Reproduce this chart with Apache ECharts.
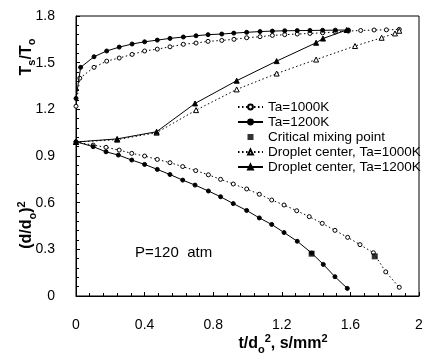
<!DOCTYPE html>
<html>
<head>
<meta charset="utf-8">
<script src="https://cdn.jsdelivr.net/npm/echarts@6/dist/echarts.min.js"></script>
<style>
html,body{margin:0;padding:0;background:#fff;}
#c{width:426px;height:364px;}
</style>
</head>
<body>
<div id="c"></div>
<script>
// ---- data ----
var tSurf1200 = [0, 0.027, 0.105, 0.179, 0.252, 0.327, 0.40, 0.474, 0.548, 0.626, 0.70, 0.77, 0.85, 0.92, 0.995, 1.073, 1.145, 1.217, 1.29, 1.364, 1.438, 1.512, 1.588];
var surf1200  = [1.27, 1.47, 1.538, 1.575, 1.60, 1.62, 1.634, 1.645, 1.656, 1.665, 1.673, 1.68, 1.684, 1.69, 1.695, 1.70, 1.703, 1.705, 1.706, 1.707, 1.708, 1.709, 1.71];

var tSurf1000 = [0, 0.022, 0.105, 0.179, 0.252, 0.327, 0.40, 0.474, 0.548, 0.626, 0.70, 0.77, 0.85, 0.921, 0.995, 1.073, 1.145, 1.217, 1.29, 1.364, 1.438, 1.512, 1.588, 1.66, 1.738, 1.81, 1.885];
var surf1000  = [1.22, 1.40, 1.47, 1.51, 1.53, 1.553, 1.575, 1.587, 1.602, 1.618, 1.626, 1.637, 1.643, 1.650, 1.66, 1.667, 1.675, 1.68, 1.684, 1.688, 1.692, 1.697, 1.703, 1.707, 1.71, 1.711, 1.714];

var tD1200 = [0, 0.10, 0.175, 0.247, 0.325, 0.40, 0.474, 0.548, 0.622, 0.694, 0.772, 0.843, 0.917, 0.995, 1.069, 1.141, 1.213, 1.29, 1.374, 1.442, 1.51, 1.582];
var d1200  = [0.992, 0.96, 0.927, 0.906, 0.874, 0.846, 0.814, 0.781, 0.745, 0.713, 0.675, 0.638, 0.594, 0.55, 0.502, 0.46, 0.408, 0.352, 0.276, 0.203, 0.124, 0.049];

var tD1000 = [0, 0.10, 0.175, 0.252, 0.325, 0.40, 0.474, 0.548, 0.622, 0.698, 0.772, 0.843, 0.917, 0.995, 1.069, 1.141, 1.213, 1.287, 1.36, 1.436, 1.51, 1.584, 1.656, 1.734, 1.806, 1.885];
var d1000  = [0.99, 0.97, 0.956, 0.938, 0.917, 0.90, 0.878, 0.857, 0.832, 0.806, 0.779, 0.75, 0.72, 0.688, 0.654, 0.617, 0.585, 0.548, 0.51, 0.467, 0.422, 0.377, 0.33, 0.278, 0.155, 0.056];

var tCenter1200 = [0, 0.24, 0.47, 0.694, 0.937, 1.17, 1.40, 1.44, 1.578];
var center1200  = [0.99, 1.01, 1.056, 1.238, 1.384, 1.51, 1.628, 1.655, 1.71];

var tCenter1000 = [0, 0.24, 0.47, 0.70, 0.937, 1.17, 1.40, 1.627, 1.782, 1.86, 1.885];
var center1000  = [0.99, 1.005, 1.05, 1.195, 1.328, 1.43, 1.52, 1.607, 1.66, 1.688, 1.705];

var tCritical = [1.374, 1.742];
var critical  = [0.272, 0.255];

var xTicks = [0, 0.4, 0.8, 1.2, 1.6, 2];
var yTicks = [0, 0.3, 0.6, 0.9, 1.2, 1.5, 1.8];

var legendNames = ['Ta=1000K', 'Ta=1200K', 'Critical mixing point', 'Droplet center, Ta=1000K', 'Droplet center, Ta=1200K'];

function zip(a, b) { return a.map(function (v, i) { return [v, b[i]]; }); }

var FONT = 'Liberation Sans, Arial, sans-serif';

var openStyle = { color: '#fff', borderColor: '#000', borderWidth: 1 };
var fillStyle = { color: '#000', borderColor: '#000', borderWidth: 1 };
var dotted = { color: '#000', width: 1, type: [1.5, 2.5] };
var solid = { color: '#000', width: 1, type: 'solid' };

var legendData = legendNames.map(function (n) {
  return n === 'Critical mixing point' ? { name: n, icon: 'path://M0,0L1,0L1,1L0,1Z' } : { name: n };
});

var chart = echarts.init(document.getElementById('c'), null, { renderer: 'canvas' });
chart.setOption({
  animation: false,
  backgroundColor: '#fff',
  grid: { left: 76, right: 7, top: 16, bottom: 68, show: true, borderColor: '#000', borderWidth: 1 },
  xAxis: {
    type: 'value', min: xTicks[0], max: xTicks[xTicks.length - 1], interval: 0.4,
    axisLine: { show: true, lineStyle: { color: '#000', width: 1 } },
    axisTick: { show: true, inside: true, length: 4, lineStyle: { color: '#000' } },
    minorTick: { show: true, splitNumber: 5, length: 3, lineStyle: { color: '#000' } },
    splitLine: { show: false },
    axisLabel: { color: '#000', fontSize: 14, fontFamily: FONT, margin: 22 }
  },
  yAxis: {
    type: 'value', min: yTicks[0], max: yTicks[yTicks.length - 1], interval: 0.3,
    axisLine: { show: true, lineStyle: { color: '#000', width: 1 } },
    axisTick: { show: true, inside: true, length: 4, lineStyle: { color: '#000' } },
    minorTick: { show: true, splitNumber: 5, length: 3, lineStyle: { color: '#000' } },
    splitLine: { show: false },
    axisLabel: { color: '#000', fontSize: 14, fontFamily: FONT, margin: 21 }
  },
  legend: {
    data: legendData,
    orient: 'vertical', left: 237, top: 100, padding: 0,
    itemWidth: 25, itemHeight: 6, itemGap: 1, itemTextGap: 2,
    textStyle: { color: '#000', fontSize: 13.5, fontFamily: FONT, lineHeight: 13 }
  },
  graphic: [
    { type: 'text', x: 27, y: 57, rotation: Math.PI / 2,
      style: { text: '{a|T}{s|s}{a|/T}{s|o}', align: 'center', verticalAlign: 'middle',
        rich: { a: { fontSize: 16, fontWeight: 'bold', fontFamily: FONT, lineHeight: 20, fill: '#000' },
                s: { fontSize: 11, fontWeight: 'bold', fontFamily: FONT, lineHeight: 12, verticalAlign: 'bottom', fill: '#000' } } } },
    { type: 'text', x: 27, y: 225, rotation: Math.PI / 2,
      style: { text: '{a|(d/d}{s|o}{a|)}{p|2}', align: 'center', verticalAlign: 'middle',
        rich: { a: { fontSize: 16, fontWeight: 'bold', fontFamily: FONT, lineHeight: 22, fill: '#000' },
                s: { fontSize: 11, fontWeight: 'bold', fontFamily: FONT, lineHeight: 12, verticalAlign: 'bottom', fill: '#000' },
                p: { fontSize: 11, fontWeight: 'bold', fontFamily: FONT, lineHeight: 12, verticalAlign: 'top', fill: '#000' } } } },
    { type: 'text', x: 283, y: 344,
      style: { text: '{a|t/d}{s|o}{p|2}{a|, s/mm}{p|2}', align: 'center', verticalAlign: 'middle',
        rich: { a: { fontSize: 16, fontWeight: 'bold', fontFamily: FONT, lineHeight: 22, fill: '#000' },
                s: { fontSize: 11, fontWeight: 'bold', fontFamily: FONT, lineHeight: 12, verticalAlign: 'bottom', fill: '#000' },
                p: { fontSize: 11, fontWeight: 'bold', fontFamily: FONT, lineHeight: 12, verticalAlign: 'top', fill: '#000' } } } },
    { type: 'text', x: 135, y: 253,
      style: { text: 'P=120  atm', fontSize: 15, fontFamily: FONT, fill: '#000', verticalAlign: 'middle' } }
  ],
  series: [
    { name: 'Ta=1000K', type: 'line', data: zip(tSurf1000, surf1000), symbol: 'circle', symbolSize: 4,
      itemStyle: openStyle, lineStyle: dotted, z: 3 },
    { name: 'Ta=1000K', type: 'line', data: zip(tD1000, d1000), symbol: 'circle', symbolSize: 4,
      itemStyle: openStyle, lineStyle: dotted, z: 3 },
    { name: 'Ta=1200K', type: 'line', data: zip(tSurf1200, surf1200), symbol: 'circle', symbolSize: 4,
      itemStyle: fillStyle, lineStyle: solid, z: 4 },
    { name: 'Ta=1200K', type: 'line', data: zip(tD1200, d1200), symbol: 'circle', symbolSize: 4,
      itemStyle: fillStyle, lineStyle: solid, z: 4 },
    { name: 'Critical mixing point', type: 'scatter', data: zip(tCritical, critical), symbol: 'rect', symbolSize: 6,
      itemStyle: { color: '#000' }, z: 5 },
    { name: 'Droplet center, Ta=1000K', type: 'line', data: zip(tCenter1000, center1000), symbol: 'triangle', symbolSize: 5,
      itemStyle: openStyle, lineStyle: dotted, z: 3 },
    { name: 'Droplet center, Ta=1200K', type: 'line', data: zip(tCenter1200, center1200), symbol: 'triangle', symbolSize: 5,
      itemStyle: fillStyle, lineStyle: solid, z: 4 }
  ]
});
</script>
</body>
</html>
